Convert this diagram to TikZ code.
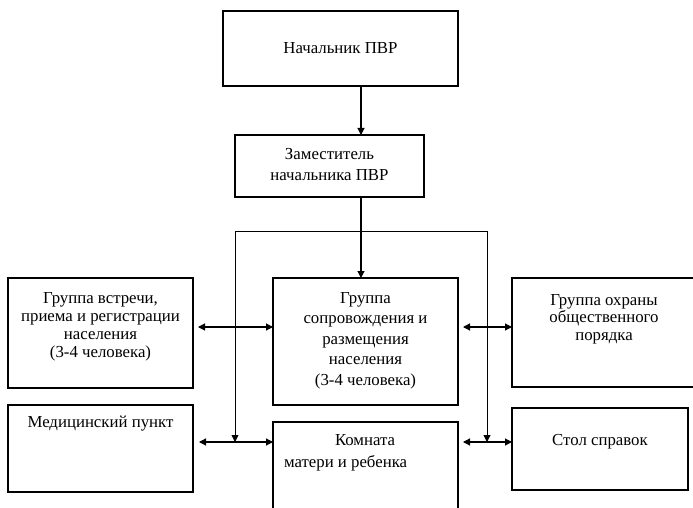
\documentclass[tikz,border=0pt]{standalone}
\usepackage{fontspec}
\setmainfont{Liberation Serif}
\usetikzlibrary{arrows.meta,calc}
% width, height, gap above first line, baselineskip, text
\newcommand\bxt[5]{\parbox[c][#2][t]{#1}{\fontsize{16.8}{#4}\selectfont\centering\vspace*{#3}\strut #5}}
\begin{document}
\begin{tikzpicture}[x=1pt,y=-1pt,
  box/.style={draw, line width=1.1pt, inner sep=0pt, outer sep=0pt},
  tip/.tip={Triangle[length=7pt,width=7pt]},
  arr/.style={line width=1.1pt, -tip},
  dbl/.style={line width=1.1pt, tip-tip},
  bus/.style={line width=0.9pt}]
\useasboundingbox (0,0) rectangle (693,508);
\clip (0,0) rectangle (693,508);

\node[box] (chief) at (340.5,48.5) {\parbox[c][75pt][c]{235pt}{\fontsize{16.8}{18}\selectfont\centering Начальник ПВР}};
\node[box] (deputy) at (329.5,166) {\bxt{189pt}{62pt}{9.3pt}{21pt}{Заместитель\\начальника ПВР}};
\node[box] (g1) at (100.5,333) {\bxt{185pt}{110pt}{12.2pt}{18.3pt}{Группа встречи,\\приема и регистрации\\населения\\(3-4 человека)}};
\node[box] (g2) at (365.5,341.5) {\bxt{185pt}{127pt}{10.65pt}{20.5pt}{Группа\\сопровождения и\\размещения\\населения\\(3-4 человека)}};
\node[box] (g3) at (604,332.5) {\bxt{184pt}{109pt}{14.75pt}{17.5pt}{Группа охраны\\общественного\\порядка}};
\node[box] (med) at (100.5,448.5) {\bxt{185pt}{87pt}{9.75pt}{17.5pt}{Медицинский пункт}};
\node[box] (room) at (365.5,477) {\parbox[c][110pt][t]{185pt}{\fontsize{16.8}{22}\selectfont\raggedright\vspace*{7.6pt}\strut\hspace*{62pt}Комната\\\hspace*{11pt}матери и ребенка}};
\node[box] (desk) at (600,449) {\bxt{176pt}{82pt}{24.75pt}{17.5pt}{Стол справок}};

\coordinate (sp) at (361,0);
\coordinate (busL) at (235,231);
\coordinate (busR) at (487,231);
\coordinate (rowA) at (0,327);
\coordinate (rowB) at (0,442);

\draw[arr] (chief.south -| sp) -- (deputy.north -| sp);
\draw[arr] (deputy.south -| sp) -- (g2.north -| sp);
\draw[bus] (busL) -- (busR);
\draw[bus,-tip] (busL) -- (busL |- rowB);
\draw[bus,-tip] (busR) -- (busR |- rowB);

\draw[dbl] ($(g1.east |- rowA)+(5,0)$) -- (g2.west |- rowA);
\draw[dbl] ($(g2.east |- rowA)+(5,0)$) -- (g3.west |- rowA);
\draw[dbl] ($(med.east |- rowB)+(6,0)$) -- (room.west |- rowB);
\draw[dbl] ($(room.east |- rowB)+(5,0)$) -- (desk.west |- rowB);
\end{tikzpicture}
\end{document}
